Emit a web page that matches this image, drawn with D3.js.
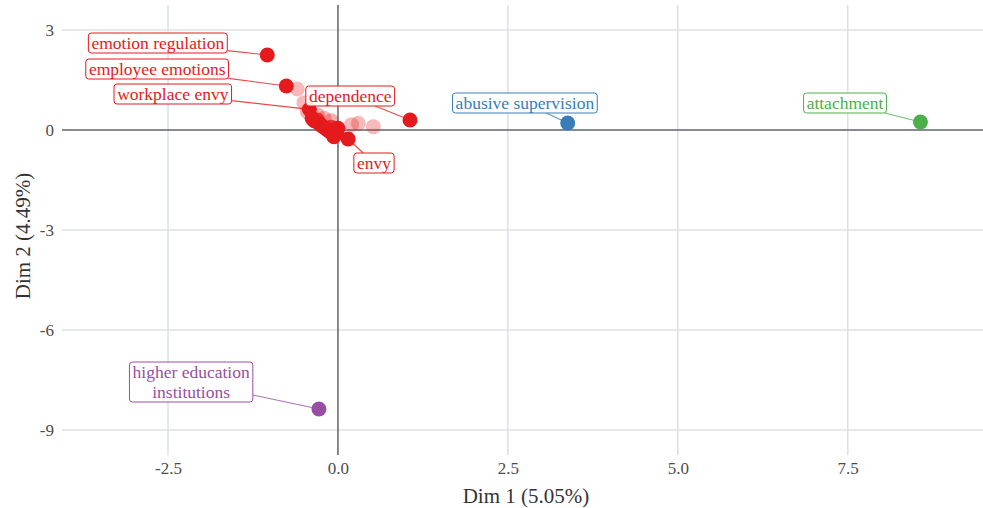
<!DOCTYPE html>
<html>
<head>
<meta charset="utf-8">
<script src="https://cdn.jsdelivr.net/npm/d3@7"></script>
<style>
  body { margin: 0; background: #fff; }
  svg text { font-family: "Liberation Serif", "DejaVu Serif", serif !important; }
</style>
</head>
<body>
<svg id="chart" width="983" height="508"></svg>
<script>
// labelled keywords
const names = ["emotion regulation", "employee emotions", "workplace envy", "dependence", "envy",
               "abusive supervision", "attachment", "higher education\ninstitutions"];
const dim1 = [-1.04, -0.76, -0.42, 1.06, 0.15, 3.38, 8.57, -0.28];
const dim2 = [2.25, 1.32, 0.62, 0.30, -0.27, 0.21, 0.24, -8.37];
const groups = ["red", "red", "red", "red", "red", "blue", "green", "purple"];
// where the repelled labels ended up (data units)
const labelX = [-2.65, -2.66, -2.43, 0.18, 0.53, 2.75, 7.46, -2.16];
const labelY = [2.61, 1.83, 1.08, 1.02, -0.99, 0.81, 0.81, -7.56];

// unlabelled keywords in the central cluster
const clusterX = [-0.60, -0.50, -0.45, -0.30, -0.20, -0.10, 0.20, 0.30, 0.52,
                  -0.38, -0.35, -0.30, -0.28, -0.25, -0.22, -0.18, -0.15, -0.12, -0.10, -0.08, -0.06, -0.04, -0.02, 0.00];
const clusterY = [1.23, 0.82, 0.55, 0.45, 0.35, 0.28, 0.16, 0.20, 0.10,
                  0.35, 0.28, 0.30, 0.20, 0.15, 0.10, 0.05, 0.00, -0.05, 0.08, -0.10, -0.20, 0.02, -0.05, 0.05];
const clusterAlpha = [0.3, 0.3, 0.35, 0.35, 0.3, 0.35, 0.3, 0.3, 0.3,
                      1, 1, 0.8, 1, 1, 0.9, 1, 1, 1, 0.8, 1, 1, 0.9, 1, 1];

const xTicks = [-2.5, 0, 2.5, 5, 7.5];
const yTicks = [3, 0, -3, -6, -9];

const palette = { red: "#E41A1C", blue: "#377EB8", green: "#4DAF4A", purple: "#984EA3" };
const serif = '"Liberation Serif", "DejaVu Serif", serif';

const svg = d3.select("#chart");
const margin = { left: 62, right: 983, top: 5, bottom: 455 };

const x = d3.scaleLinear().domain([-4.06, 9.49]).range([margin.left, margin.right]);
const y = d3.scaleLinear().domain([-9.75, 3.75]).range([margin.bottom, margin.top]);

// grid
const grid = svg.append("g");
grid.selectAll(".gx").data(xTicks.filter(d => d !== 0)).enter().append("line")
    .attr("x1", d => x(d)).attr("x2", d => x(d))
    .attr("y1", margin.top).attr("y2", margin.bottom)
    .attr("stroke", "#dde2e8").attr("stroke-width", 1.6);
grid.selectAll(".gy").data(yTicks.filter(d => d !== 0)).enter().append("line")
    .attr("x1", margin.left).attr("x2", margin.right)
    .attr("y1", d => y(d)).attr("y2", d => y(d))
    .attr("stroke", "#dde2e8").attr("stroke-width", 1.6);

// zero lines
svg.append("line")
    .attr("x1", margin.left).attr("x2", margin.right)
    .attr("y1", y(0)).attr("y2", y(0))
    .attr("stroke", "#5f656c").attr("stroke-width", 1.5);
svg.append("line")
    .attr("x1", x(0)).attr("x2", x(0))
    .attr("y1", margin.top).attr("y2", margin.bottom)
    .attr("stroke", "#5f656c").attr("stroke-width", 1.5);

// axes (text only)
const hy = f => d => f(d).replace("\u2212", "-");
const xAxis = svg.append("g")
    .attr("transform", `translate(0, ${margin.bottom})`)
    .call(d3.axisBottom(x).tickValues(xTicks).tickFormat(hy(d3.format(".1f"))).tickSize(0).tickPadding(7));
xAxis.select(".domain").remove();
xAxis.attr("font-family", serif);
xAxis.selectAll("text").style("font-size", "17px").attr("fill", "#4d4d4d");

const yAxis = svg.append("g")
    .attr("transform", `translate(${margin.left}, 0)`)
    .call(d3.axisLeft(y).tickValues(yTicks).tickFormat(hy(d3.format("d"))).tickSize(0).tickPadding(8));
yAxis.select(".domain").remove();
yAxis.attr("font-family", serif);
yAxis.selectAll("text").style("font-size", "17px").attr("fill", "#4d4d4d");

// axis titles
svg.append("text")
    .attr("x", 526)
    .attr("y", 503)
    .attr("text-anchor", "middle")
    .style("font-size", "21px")
    .attr("fill", "#333")
    .text("Dim 1 (5.05%)");
svg.append("text")
    .attr("transform", `translate(30, 236) rotate(-90)`)
    .attr("text-anchor", "middle")
    .style("font-size", "21px")
    .attr("fill", "#333")
    .text("Dim 2 (4.49%)");

// layers
const clusterG = svg.append("g");
const segG = svg.append("g");
const pointG = svg.append("g");
const labelG = svg.append("g");

// cluster points
const cluster = clusterX.map((d, i) => ({ x: d, y: clusterY[i], a: clusterAlpha[i] }));
clusterG.selectAll("circle").data(cluster).enter().append("circle")
    .attr("cx", d => x(d.x)).attr("cy", d => y(d.y)).attr("r", 7.5)
    .attr("fill", palette.red).attr("fill-opacity", d => d.a);

const labelled = names.map((n, i) => ({
    name: n, x: dim1[i], y: dim2[i], lx: labelX[i], ly: labelY[i], col: palette[groups[i]]
}));

pointG.selectAll("circle").data(labelled).enter().append("circle")
    .attr("cx", d => x(d.x)).attr("cy", d => y(d.y)).attr("r", 7.5)
    .attr("fill", d => d.col);

const lab = labelG.selectAll("g").data(labelled).enter().append("g")
    .attr("transform", d => `translate(${x(d.lx)}, ${y(d.ly)})`);

const txt = lab.append("text")
    .attr("text-anchor", "middle")
    .style("font-size", "17.5px")
    .attr("fill", d => d.col);
txt.each(function(d) {
    const lines = d.name.split("\n");
    const t = d3.select(this);
    lines.forEach((l, k) => {
        t.append("tspan").attr("x", 0)
            .attr("y", (k - (lines.length - 1) / 2) * 20 + 6)
            .text(l);
    });
});
lab.each(function(d) {
    const bb = d3.select(this).select("text").node().getBBox();
    d.bw = bb.width + 6;
    d.bh = bb.height;
    d.by = bb.y;
});

lab.insert("rect", "text")
    .attr("x", d => -d.bw / 2).attr("y", d => d.by)
    .attr("width", d => d.bw).attr("height", d => d.bh)
    .attr("rx", 3).attr("ry", 3)
    .attr("fill", "white").attr("fill-opacity", 0.9)
    .attr("stroke", d => d.col).attr("stroke-width", 1);

// segments from box edge to point
labelled.forEach(d => {
    const cx = x(d.lx), cy = y(d.ly) + d.by + d.bh / 2;
    const px = x(d.x), py = y(d.y);
    const dx = px - cx, dy = py - cy;
    const tx = dx !== 0 ? (d.bw / 2) / Math.abs(dx) : Infinity;
    const ty = dy !== 0 ? (d.bh / 2) / Math.abs(dy) : Infinity;
    const t = Math.min(tx, ty, 1);
    segG.append("line")
        .attr("x1", cx + dx * t).attr("y1", cy + dy * t)
        .attr("x2", px).attr("y2", py)
        .attr("stroke", d.col).attr("stroke-opacity", 0.8).attr("stroke-width", 1.1);
});
</script>
</body>
</html>
